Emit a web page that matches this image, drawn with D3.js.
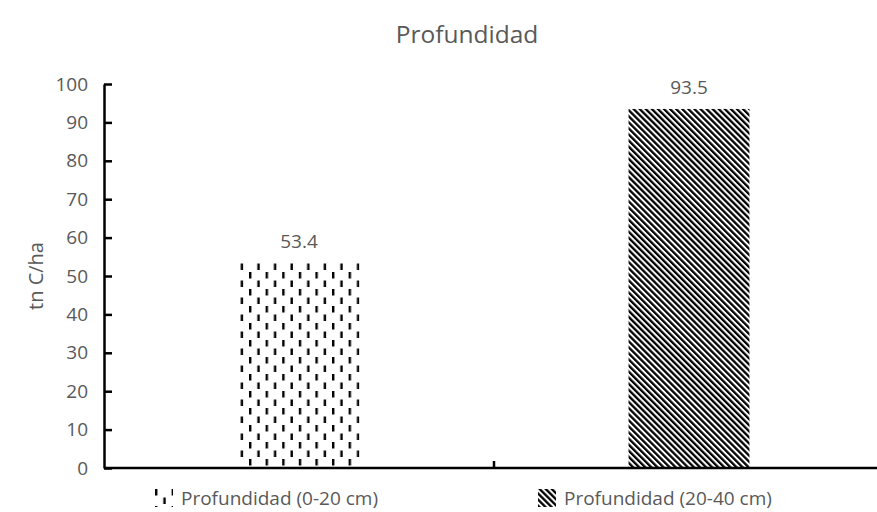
<!DOCTYPE html>
<html>
<head>
<meta charset="utf-8">
<script src="https://cdn.jsdelivr.net/npm/d3@7"></script>
<style>
  body { margin: 0; background: #fff; }
  text { font-family: "Open Sans", sans-serif; fill: #595959; }
</style>
</head>
<body>
<div id="chart"></div>
<script>
// data
var categories = ["Profundidad (0-20 cm)", "Profundidad (20-40 cm)"];
var values = [53.4, 93.5];
var yTicks = [0, 10, 20, 30, 40, 50, 60, 70, 80, 90, 100];
var patterns = ["dashVert", "diagDown"];

var width = 877, height = 512;
var margin = {top: 84, right: -7, bottom: 44, left: 104};
var fs = "19px";

var svg = d3.select("#chart").append("svg")
    .attr("width", width)
    .attr("height", height);

// fill patterns
var defs = svg.append("defs");
var p1 = defs.append("pattern")
    .attr("id", "dashVert")
    .attr("patternUnits", "userSpaceOnUse")
    .attr("width", 16.6).attr("height", 17);
p1.append("rect").attr("x", 0).attr("y", 0).attr("width", 2.4).attr("height", 6.5).attr("fill", "#000");
p1.append("rect").attr("x", 8.3).attr("y", 8.5).attr("width", 2.4).attr("height", 6.5).attr("fill", "#000");

var p2 = defs.append("pattern")
    .attr("id", "diagDown")
    .attr("patternUnits", "userSpaceOnUse")
    .attr("width", 4.3).attr("height", 4.3)
    .attr("patternTransform", "rotate(-45)");
p2.append("rect").attr("width", 4.3).attr("height", 4.3).attr("fill", "#fff");
p2.append("rect").attr("width", 2.3).attr("height", 4.3).attr("fill", "#000");

var x = d3.scaleBand()
    .domain(categories)
    .range([margin.left, width - margin.right])
    .paddingInner(0.69)
    .paddingOuter(0.345);

var y = d3.scaleLinear()
    .domain([0, 100])
    .range([height - margin.bottom, margin.top]);

// title
svg.append("text")
    .attr("x", 467).attr("y", 43)
    .attr("text-anchor", "middle")
    .style("font-size", "24.5px")
    .text("Profundidad");

// bars
svg.selectAll(".bar")
    .data(values)
    .enter().append("rect")
    .attr("class", "bar")
    .attr("x", function(d, i) { return x(categories[i]); })
    .attr("y", function(d) { return y(d); })
    .attr("width", x.bandwidth())
    .attr("height", function(d) { return y(0) - y(d); })
    .attr("fill", function(d, i) { return "url(#" + patterns[i] + ")"; });

// value labels
svg.selectAll(".lbl")
    .data(values)
    .enter().append("text")
    .attr("class", "lbl")
    .attr("x", function(d, i) { return x(categories[i]) + x.bandwidth() / 2; })
    .attr("y", function(d) { return y(d) - 15; })
    .attr("text-anchor", "middle")
    .style("font-size", fs)
    .text(function(d) { return d.toFixed(1); });

// y axis, ticks pointing inward
var yAxis = svg.append("g")
    .attr("transform", "translate(" + margin.left + ",0)")
    .call(d3.axisLeft(y).tickValues(yTicks).tickSize(-8).tickSizeOuter(0).tickPadding(16));
yAxis.select(".domain").attr("stroke", "#000").attr("stroke-width", 2.5);
yAxis.selectAll(".tick line").attr("stroke", "#000").attr("stroke-width", 2.5);
yAxis.selectAll(".tick text")
    .style("font-family", "'Open Sans', sans-serif")
    .style("font-size", fs)
    .attr("fill", "#595959");

// x axis line with middle tick
svg.append("line")
    .attr("x1", margin.left).attr("x2", width)
    .attr("y1", y(0)).attr("y2", y(0))
    .attr("stroke", "#000").attr("stroke-width", 2.5);
svg.append("line")
    .attr("x1", x(categories[1]) - x.step() * x.paddingInner() / 2)
    .attr("x2", x(categories[1]) - x.step() * x.paddingInner() / 2)
    .attr("y1", y(0)).attr("y2", y(0) - 7)
    .attr("stroke", "#000").attr("stroke-width", 2.5);

// y label
svg.append("text")
    .attr("transform", "translate(43," + (y(50)) + ") rotate(-90)")
    .attr("text-anchor", "middle")
    .style("font-size", "20px")
    .text("tn C/ha");

// legend
var legendX = [155, 538];
var leg = svg.selectAll(".leg")
    .data(categories)
    .enter().append("g")
    .attr("class", "leg")
    .attr("transform", function(d, i) { return "translate(" + legendX[i] + ",489)"; });
leg.append("rect")
    .attr("width", 18).attr("height", 18)
    .attr("fill", function(d, i) { return "url(#" + patterns[i] + ")"; });
leg.append("text")
    .attr("x", 26).attr("y", 16)
    .style("font-size", fs)
    .text(function(d) { return d; });
</script>
</body>
</html>
